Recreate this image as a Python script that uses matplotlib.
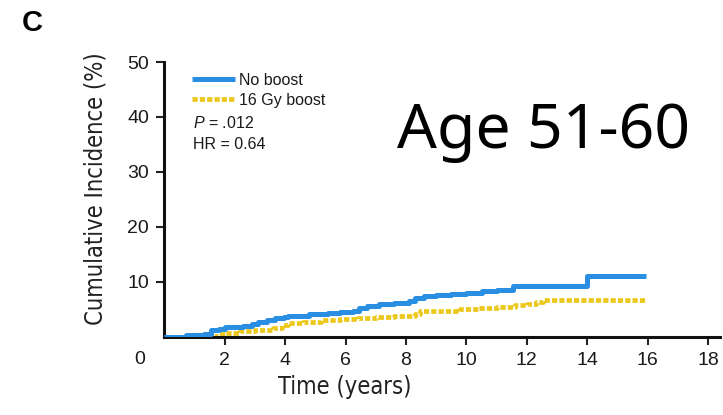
import matplotlib
matplotlib.use("Agg")
import matplotlib.pyplot as plt

# Cumulative incidence curves (years, %)
no_boost_t = [0, 0.7, 1.3, 1.55, 1.8, 2.0, 2.6, 2.9, 3.1, 3.4, 3.65, 3.95, 4.1, 4.8,
              5.4, 5.8, 6.25, 6.45, 6.7, 7.1, 7.6, 8.1, 8.3, 8.6, 9.0, 9.5, 10.0,
              10.5, 11.0, 11.55, 14.0, 15.95]
no_boost_v = [0, 0.3, 0.6, 1.2, 1.5, 1.8, 2.0, 2.4, 2.8, 3.1, 3.4, 3.7, 3.9, 4.1,
              4.4, 4.6, 4.8, 5.3, 5.7, 6.0, 6.2, 6.5, 7.0, 7.4, 7.6, 7.8, 8.0,
              8.3, 8.6, 9.2, 11.0, 11.0]

boost_t = [0, 1.3, 1.8, 2.0, 2.5, 3.0, 3.6, 3.9, 4.1, 4.6, 5.2, 5.8, 6.4, 7.0,
           7.6, 8.3, 8.45, 9.2, 9.8, 10.4, 11.0, 11.6, 12.0, 12.3, 12.55, 15.95]
boost_v = [0, 0.2, 0.5, 0.8, 1.0, 1.3, 1.6, 2.1, 2.5, 2.7, 3.0, 3.3, 3.5, 3.7,
           3.9, 4.1, 4.7, 4.8, 5.0, 5.2, 5.5, 5.8, 6.0, 6.3, 6.8, 6.8]

x_ticks = [2, 4, 6, 8, 10, 12, 14, 16, 18]
y_ticks = [10, 20, 30, 40, 50]

plt.rcParams['font.family'] = ['Liberation Sans', 'DejaVu Sans']
plt.rcParams['mathtext.fontset'] = 'custom'
plt.rcParams['mathtext.it'] = 'Liberation Sans:italic'
plt.rcParams['mathtext.rm'] = 'Liberation Sans'

fig = plt.figure(figsize=(7.23, 4.15), dpi=100)
ax = fig.add_axes([0.2275, 0.188, 0.7684, 0.6626])

ax.plot(no_boost_t, no_boost_v, drawstyle='steps-post', color='#2a8fe3',
        linewidth=3.6, label='No boost', solid_capstyle='butt', zorder=3)
ax.plot(boost_t, boost_v, drawstyle='steps-post', color='#ecc81a',
        linewidth=3.4, linestyle=(0, (1.1, 0.45)), label='16 Gy boost', zorder=2)

ax.set_xlim(0, 18.4)
ax.set_ylim(0, 50)
ax.set_xticks(x_ticks)
ax.set_yticks(y_ticks)
ax.tick_params(axis='both', labelsize=14, width=1.5, length=6, color='#222222',
               labelcolor='#1a1a1a', pad=5)
for side in ['top', 'right']:
    ax.spines[side].set_visible(False)
for side in ['left', 'bottom']:
    ax.spines[side].set_linewidth(2.2)
    ax.spines[side].set_color('#111111')

# shared origin label
ax.text(-0.035, -0.05, '0', transform=ax.transAxes, ha='right', va='top',
        fontsize=14, color='#1a1a1a')

label_font = dict(fontsize=17, family=['DejaVu Sans'], fontstretch='condensed',
                  color='#222222')
ax.set_xlabel('Time (years)', **label_font)
ax.set_ylabel('Cumulative Incidence (%)', **label_font)
ax.xaxis.set_label_coords(0.325, -0.14)
ax.yaxis.set_label_coords(-0.102, 0.54)

leg = ax.legend(loc='upper left', bbox_to_anchor=(0.05, 0.96), frameon=False,
                fontsize=11.5, handlelength=2.7, handletextpad=0.2, labelspacing=0.3,
                borderpad=0, borderaxespad=0)
for t in leg.get_texts():
    t.set_color('#1a1a1a')

ax.text(0.052, 0.777, r'$\it{P}$ = .012', transform=ax.transAxes, fontsize=11.5,
        color='#1a1a1a', va='center')
ax.text(0.052, 0.70, 'HR = 0.64', transform=ax.transAxes, fontsize=11.5,
        color='#1a1a1a', va='center')

fig.text(544 / 723, 1 - 148 / 415, 'Age 51-60', fontsize=45, family=['Noto Sans', 'DejaVu Sans'],
         ha='center', va='baseline', color='black')
fig.text(22 / 723, 1 - 23 / 415, 'C', fontsize=21, fontweight='bold', ha='left', va='center')

fig.savefig('out.png', dpi=100)
